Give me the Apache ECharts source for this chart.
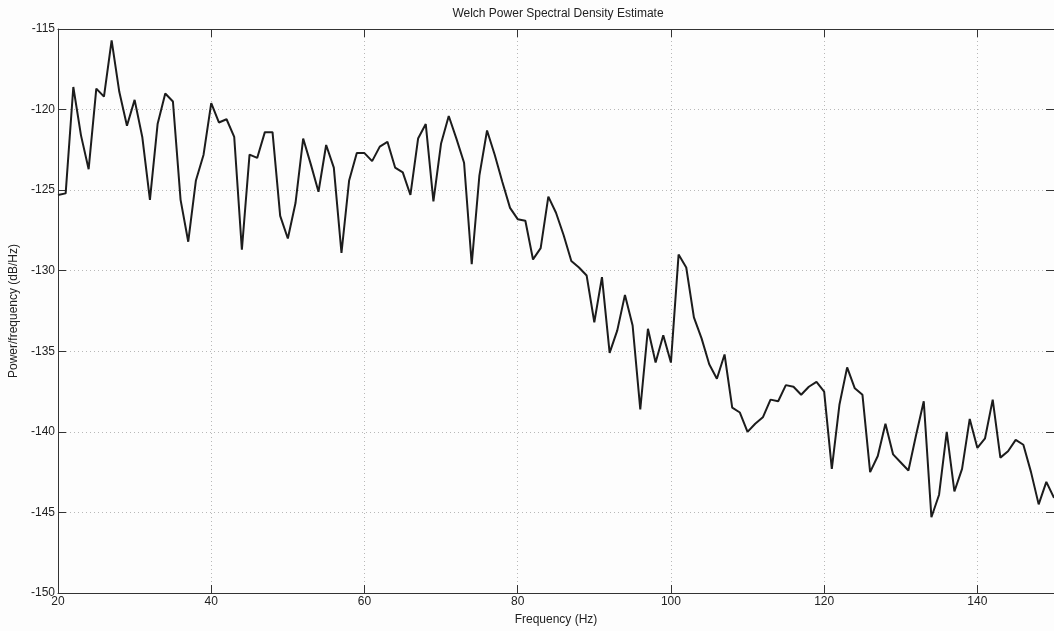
<!DOCTYPE html>
<html>
<head>
<meta charset="utf-8">
<title>Welch Power Spectral Density Estimate</title>
<script src="https://cdn.jsdelivr.net/npm/echarts@6/dist/echarts.min.js"></script>
<style>
  html, body { margin: 0; padding: 0; background: #fdfdfd; }
  #chart { width: 1054px; height: 631px; }
</style>
</head>
<body>
<div id="chart"></div>
<script>
// Frequency bins (Hz), 1 Hz apart from 20 to 150
const frequencies = [
  20, 21, 22, 23, 24, 25, 26, 27, 28, 29,
  30, 31, 32, 33, 34, 35, 36, 37, 38, 39,
  40, 41, 42, 43, 44, 45, 46, 47, 48, 49,
  50, 51, 52, 53, 54, 55, 56, 57, 58, 59,
  60, 61, 62, 63, 64, 65, 66, 67, 68, 69,
  70, 71, 72, 73, 74, 75, 76, 77, 78, 79,
  80, 81, 82, 83, 84, 85, 86, 87, 88, 89,
  90, 91, 92, 93, 94, 95, 96, 97, 98, 99,
  100, 101, 102, 103, 104, 105, 106, 107, 108, 109,
  110, 111, 112, 113, 114, 115, 116, 117, 118, 119,
  120, 121, 122, 123, 124, 125, 126, 127, 128, 129,
  130, 131, 132, 133, 134, 135, 136, 137, 138, 139,
  140, 141, 142, 143, 144, 145, 146, 147, 148, 149,
  150
];

// Power spectral density estimate (dB/Hz)
const psdDb = [
  -125.3, -125.2, -118.6, -121.6, -123.7, -118.7, -119.2, -115.7, -118.9, -121.0,
  -119.4, -121.7, -125.6, -120.9, -119.0, -119.5, -125.6, -128.2, -124.4, -122.8,
  -119.6, -120.8, -120.6, -121.7, -128.7, -122.8, -123.0, -121.4, -121.4, -126.6,
  -128.0, -125.8, -121.8, -123.4, -125.1, -122.2, -123.6, -128.9, -124.4, -122.7,
  -122.7, -123.2, -122.3, -122.0, -123.6, -123.9, -125.3, -121.8, -120.9, -125.7,
  -122.1, -120.4, -121.8, -123.3, -129.6, -124.1, -121.3, -122.8, -124.5, -126.1,
  -126.8, -126.9, -129.3, -128.6, -125.4, -126.4, -127.8, -129.4, -129.8, -130.3,
  -133.2, -130.4, -135.1, -133.7, -131.5, -133.4, -138.6, -133.6, -135.7, -134.0,
  -135.7, -129.0, -129.8, -132.9, -134.2, -135.8, -136.7, -135.2, -138.5, -138.8,
  -140.0, -139.5, -139.1, -138.0, -138.1, -137.1, -137.2, -137.7, -137.2, -136.9,
  -137.5, -142.3, -138.3, -136.0, -137.3, -137.7, -142.5, -141.5, -139.5, -141.4,
  -141.9, -142.4, -140.2, -138.1, -145.3, -143.9, -140.0, -143.7, -142.3, -139.2,
  -141.0, -140.4, -138.0, -141.6, -141.2, -140.5, -140.8, -142.5, -144.5, -143.1,
  -144.1
];

const xTickStart = 20, xTickStep = 20, xEnd = 150;
const yMin = -150, yMax = -115, yTickStep = 5;

const textFont = 'Liberation Sans, Arial, Helvetica, sans-serif';
const inkColor = '#222222';
const frameColor = '#333333';

const chart = echarts.init(document.getElementById('chart'), null, { renderer: 'canvas' });

const gridLines = { show: true, lineStyle: { color: '#b8b8b8', type: [1, 3], width: 1 } };

chart.setOption({
  backgroundColor: '#fdfdfd',
  animation: false,
  title: {
    text: 'Welch Power Spectral Density Estimate',
    left: 553,
    textAlign: 'center',
    top: 3,
    textStyle: { fontFamily: textFont, fontSize: 12, fontWeight: 'normal', color: inkColor }
  },
  grid: { left: 58, top: 29, right: -5, bottom: 38 },
  xAxis: [
    {
      type: 'value',
      min: xTickStart,
      max: xEnd,
      interval: xTickStep,
      name: 'Frequency (Hz)',
      nameLocation: 'middle',
      nameGap: 21,
      nameTextStyle: { fontFamily: textFont, fontSize: 12, color: inkColor },
      axisLine: { show: true, lineStyle: { color: frameColor, width: 1 } },
      axisTick: { show: true, inside: true, length: 8, lineStyle: { color: frameColor } },
      axisLabel: { fontFamily: textFont, fontSize: 12, color: inkColor, margin: 3, showMaxLabel: false },
      splitLine: gridLines
    },
    {
      type: 'value',
      position: 'top',
      min: xTickStart,
      max: xEnd,
      interval: xTickStep,
      axisLine: { show: true, lineStyle: { color: frameColor, width: 1 } },
      axisTick: { show: true, inside: true, length: 8, lineStyle: { color: frameColor } },
      axisLabel: { show: false },
      splitLine: { show: false }
    }
  ],
  yAxis: [
    {
      type: 'value',
      min: yMin,
      max: yMax,
      interval: yTickStep,
      name: 'Power/frequency (dB/Hz)',
      nameLocation: 'middle',
      nameGap: 37,
      nameTextStyle: { fontFamily: textFont, fontSize: 12, color: inkColor },
      axisLine: { show: true, lineStyle: { color: frameColor, width: 1 } },
      axisTick: { show: true, inside: true, length: 8, lineStyle: { color: frameColor } },
      axisLabel: { fontFamily: textFont, fontSize: 12, color: inkColor, margin: 3 },
      splitLine: gridLines
    },
    {
      type: 'value',
      position: 'right',
      min: yMin,
      max: yMax,
      interval: yTickStep,
      axisLine: { show: true, lineStyle: { color: frameColor, width: 1 } },
      axisTick: { show: true, inside: true, length: 8, lineStyle: { color: frameColor } },
      axisLabel: { show: false },
      splitLine: { show: false }
    }
  ],
  series: [
    {
      type: 'line',
      xAxisIndex: 0,
      yAxisIndex: 0,
      data: frequencies.map((f, i) => [f, psdDb[i]]),
      showSymbol: false,
      symbol: 'none',
      lineStyle: { color: '#1c1c1c', width: 2 },
      clip: true
    }
  ]
});
</script>
</body>
</html>
